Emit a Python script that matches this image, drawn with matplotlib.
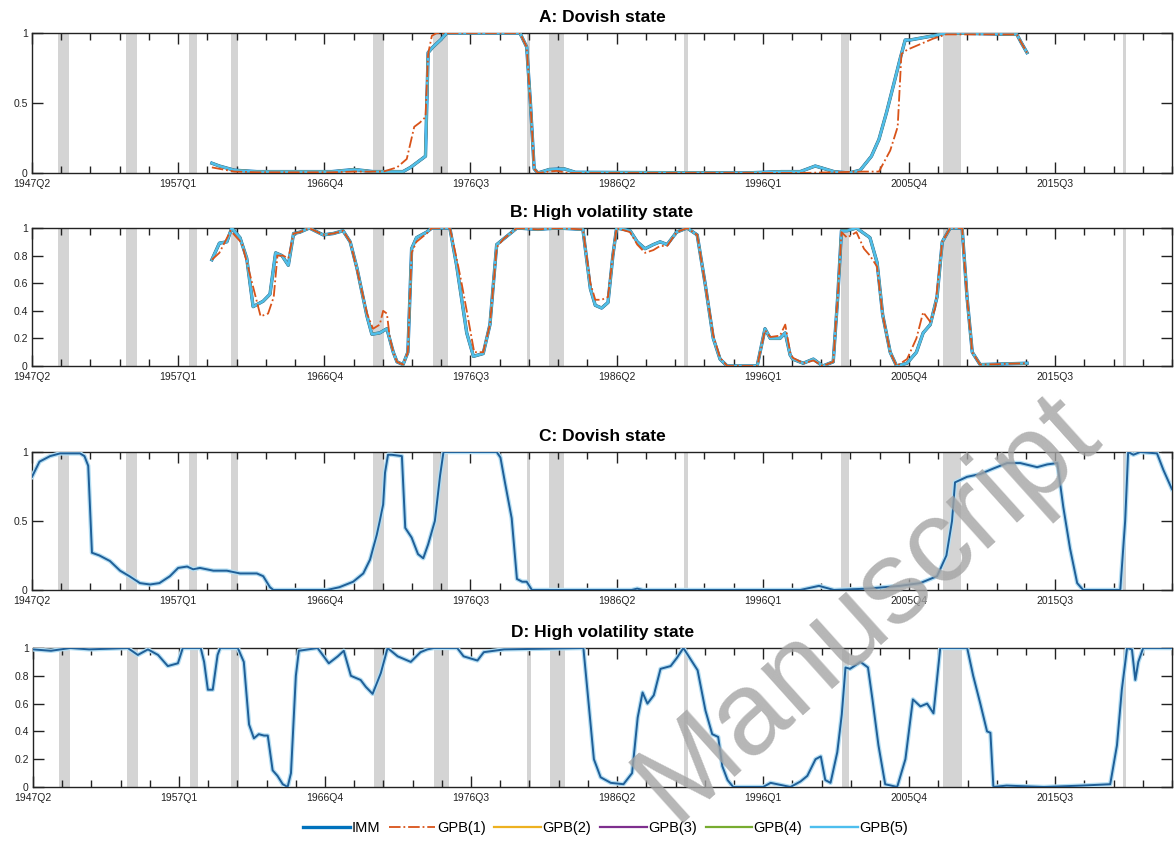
import numpy as np
import matplotlib
matplotlib.use("Agg")
import matplotlib.pyplot as plt
import matplotlib.patheffects as pe

plt.rcParams["font.family"] = ["Liberation Sans", "DejaVu Sans"]

# ───────────── axis / labels ─────────────
# x is quarters since 1947Q2
X_END = 304.2
tick_q = [0, 39, 78, 117, 156, 195, 234, 273]
tick_lbl = ["1947Q2", "1957Q1", "1966Q4", "1976Q3", "1986Q2", "1996Q1", "2005Q4", "2015Q3"]

# NBER recessions (first quarter after peak, trough), in quarters since 1947Q2
recessions = [(7, 10), (25, 28), (42, 44), (53, 55), (91, 94), (107, 111),
              (132, 133), (138, 142), (174, 175), (216, 218), (243, 248), (291, 292)]

titles = ["A: Dovish state", "B: High volatility state",
          "C: Dovish state", "D: High volatility state"]

series_names = ["IMM", "GPB(1)", "GPB(2)", "GPB(3)", "GPB(4)", "GPB(5)"]

# ───────────── data (quarter, prob) ─────────────
a_imm = [(48, .07), (50, .05), (54, .02), (60, .01), (70, .01), (80, .01), (86, .025),
         (91, .01), (99, .01), (101, .04), (103.5, .09), (105, .12), (105.7, .86),
         (107, .9), (109, .95), (110.7, 1.0), (130.2, 1.0), (132, .9), (133, .5),
         (134, .03), (135, 0), (138, .025), (142, .03), (145, .005), (190, 0),
         (200, .01), (205, .01), (209, .05), (214, .01), (218, 0), (221, .02),
         (224, .12), (226, .24), (228, .43), (230, .64), (231.6, .81), (233, .95),
         (234.3, .95), (240.5, .98), (244, 1.0), (262.8, .99), (264, .93), (265.5, .86)]

a_gpb1 = [(48, .04), (50, .03), (54, .01), (60, .005), (80, .005), (86, .01),
          (93.7, .01), (97.4, .04), (100, .1), (102, .33), (103.5, .36), (105, .4),
          (105.7, .85), (106.7, .98), (108, 1.0), (130.2, 1.0), (132, .9), (133, .5),
          (134, .03), (135, 0), (138, .01), (140, .015), (143, 0), (190, 0), (205, 0),
          (222, .01), (226, .01), (229, .16), (231, .33), (232, .85), (233.5, .88),
          (240.5, .96), (244, .99), (262.8, .99), (264, .93), (265.5, .86)]

b_imm = [(48, .77), (50, .89), (52, .9), (53.3, 1.0), (55.5, .93), (57.3, .78),
         (59, .43), (61.7, .47), (63.5, .52), (65, .82), (66.7, .8), (68.4, .73),
         (69.8, .96), (71.5, .97), (74, 1.0), (77.7, .95), (80.4, .96), (83, .98),
         (84.9, .9), (86.7, .71), (89.4, .36), (90.7, .23), (92.8, .24), (94.7, .27),
         (95.5, .19), (96.4, .1), (97.4, .03), (99, .01), (100.3, .1), (101.3, .85),
         (102.6, .93), (105.3, .97), (106.7, 1.0), (111.5, 1.0), (113.3, .73),
         (116, .24), (117.8, .07), (120.4, .09), (122.2, .3), (124, .88), (125.8, .92),
         (127.6, .96), (129.4, 1.0), (135, .99), (140, 1.0), (147, .99), (149, .56),
         (150.3, .44), (152, .42), (153.7, .46), (155, .8), (156, 1.0), (159.6, .98),
         (161.5, .9), (163.6, .85), (165.8, .88), (167.6, .9), (169.5, .88), (172, .97),
         (174.8, 1.0), (177.5, .95), (179.6, .6), (181.8, .2), (183.6, .05), (185.5, 0),
         (193.5, 0), (195.6, .27), (197, .2), (199.6, .2), (201, .24), (202.3, .08),
         (203, .05), (205.8, .02), (208.5, .05), (211, 0), (213.8, .03), (215, .5),
         (216, .98), (217.5, .98), (220, 1.0), (223.6, .93), (225.5, .75), (227, .37),
         (229, .1), (230.7, 0), (233.5, .02), (236, .1), (237.8, .24), (239.7, .3),
         (241.5, .5), (242.9, .9), (245, 1.0), (248.2, 1.0), (249.5, .5), (250.9, .1),
         (253, .01), (265.5, .02)]

b_gpb1 = [(48, .77), (50, .82), (53, .98), (56, .89), (58, .68), (61, .36), (63, .38),
          (64.5, .5), (65.5, .8), (67, .8), (68.4, .78), (69.8, .96), (71.5, .97),
          (74, 1.0), (77.7, .95), (80.4, .96), (83, .98), (84.9, .9), (86.7, .7),
          (89.4, .38), (91, .27), (92.8, .3), (93.7, .4), (94.7, .38), (95.5, .2),
          (96.4, .1), (97.4, .03), (99, .01), (100.3, .1), (101.3, .82), (102.6, .9),
          (105.3, .96), (106.7, 1.0), (111.5, 1.0), (113.3, .78), (114.5, .62),
          (116, .4), (118, .1), (120.4, .1), (122.2, .3), (124, .86), (125.8, .92),
          (127.6, .96), (129.4, 1.0), (135, .99), (140, 1.0), (147, .99), (149, .6),
          (150.3, .48), (152, .48), (153.7, .5), (155, .8), (156, 1.0), (159.6, .97),
          (161.5, .88), (163.6, .82), (165.8, .84), (167.6, .87), (169.5, .87),
          (172, .97), (174.8, 1.0), (177.5, .95), (179.6, .6), (181.8, .22),
          (183.6, .06), (185.5, 0), (193.5, 0), (195.6, .26), (197, .21), (199.6, .22),
          (201, .3), (202.3, .1), (203, .06), (205.8, .02), (208.5, .04), (211, 0),
          (213.8, .03), (215, .5), (216, .97), (217.5, .93), (220, .97), (222, .85),
          (223.6, .8), (225.5, .72), (227, .37), (229, .1), (230.7, 0), (233.5, .05),
          (236, .2), (237.8, .39), (239.7, .32), (241, .42), (242.9, .9), (245, 1.0),
          (248.2, 1.0), (249.5, .5), (250.9, .1), (253, .01), (265.5, .02)]

c_imm = [(0, .82), (2, .93), (4.8, .97), (7.5, .99), (12.8, .99), (14, .97), (15, .9),
         (16, .27), (18, .25), (20.8, .21), (23.5, .14), (26, .1), (28.8, .05),
         (31.5, .04), (34, .05), (36.8, .1), (39, .16), (41.4, .17), (43, .15),
         (44.8, .16), (48.4, .14), (52, .14), (55.5, .12), (60, .12), (61.7, .1),
         (63.5, .02), (64.4, 0), (78.7, 0), (82, .02), (85.7, .06), (88.4, .12),
         (90.2, .22), (92, .4), (92.8, .5), (93.7, .62), (94.2, .85), (95, .98),
         (96, .98), (98.7, .97), (99.6, .45), (101.3, .38), (103, .26), (104.4, .23),
         (105.7, .33), (107.5, .5), (108.9, .83), (109.8, 1.0), (124, 1.0), (125, .96),
         (126.2, .78), (128, .52), (129.4, .08), (130.8, .06), (132, .06), (133.4, 0),
         (160, 0), (161.5, .01), (163, 0), (205, 0), (210, .03), (214, 0), (223, .01),
         (231.6, .03), (237, .05), (241.5, .1), (244, .25), (245.5, .5), (246.3, .78),
         (249.5, .82), (253, .84), (256.5, .88), (260.2, .92), (263.7, .92),
         (268.2, .89), (270.9, .91), (273.6, .92), (275.2, .6), (277, .3), (278.9, .05),
         (280.5, 0), (290.4, 0), (291.7, .5), (292.5, 1.0), (293.9, .98), (295.7, 1.0),
         (300.2, .99), (301.9, .87), (303.7, .76), (304.2, .73)]

d_imm = [(0, .99), (4.8, .98), (10, 1.0), (15, .99), (25.3, 1.0), (28, .95), (30.7, .99),
         (33.4, .95), (36, .87), (38.7, .89), (40, 1.0), (44.8, 1.0), (45.7, .9),
         (46.7, .7), (48, .7), (49.3, .95), (50, 1.0), (54.7, 1.0), (56.3, .9),
         (57.7, .45), (59, .35), (60.3, .38), (61.7, .37), (62.7, .37), (64, .12),
         (65.3, .08), (66.7, .02), (68, 0), (68.9, .1), (70.2, .8), (71, .98), (76, 1.0),
         (79, .89), (81.4, .94), (83, .98), (84.9, .8), (87.5, .77), (88.9, .72),
         (90.7, .67), (92.9, .82), (94.7, 1.0), (97.4, .94), (100.9, .9), (103.5, .97),
         (105.3, .99), (107, 1.0), (113.3, 1.0), (115, .94), (118.7, .91), (120.4, .97),
         (125.8, .99), (147, 1.0), (148.4, .6), (149.8, .2), (151.6, .07), (154.3, .03),
         (157.7, .02), (160, .1), (161.5, .5), (162.8, .68), (164.1, .6), (165.8, .66),
         (167.6, .85), (170.3, .87), (172, .93), (173.7, 1.0), (175.6, .92),
         (177.5, .84), (179.6, .55), (181.4, .38), (183, .36), (184.1, .15),
         (185.5, .05), (187, 0), (195, 0), (197, .03), (202.3, 0), (205, .04),
         (206.8, .08), (209, .2), (210.4, .22), (211.6, .05), (213, .03), (214.8, .25),
         (216, .52), (217, .86), (218.2, .85), (221, .9), (223, .86), (224.2, .63),
         (225.8, .3), (227.6, .02), (230.8, 0), (233, .2), (235, .63), (237, .58),
         (238.8, .6), (240.5, .53), (242.3, 1.0), (249.5, 1.0), (251.1, .8), (253, .6),
         (254.8, .4), (255.7, .39), (256.5, 0), (260, .01), (270, 0), (280, .01),
         (287.7, .02), (289.5, .3), (290.8, .7), (292.2, 1.0), (293.5, .99),
         (294.4, .77), (295.2, .9), (296.5, 1.0), (304.2, 1.0)]

# ───────────── styles ─────────────
colors = ["#0072BD", "#D95319", "#EDB120", "#7E2F8E", "#77AC30", "#4DBEEE"]
styles = ["-", "-.", "-", "-", "-", "-"]
widths = [2.4, 1.3, 1.6, 1.6, 1.6, 1.7]

W, H = 1176, 841
# (left, top, right, bottom) pixel boxes
boxes = [(32, 33, 1172, 173), (32, 228, 1172, 366),
         (32, 452, 1172, 590), (33, 648, 1172, 787)]

fig = plt.figure(figsize=(W / 100, H / 100), dpi=100)


def xy(pairs):
    arr = np.array(pairs, dtype=float)
    return arr[:, 0], arr[:, 1]


def style_axis(ax, title, fine):
    for s, e in recessions:
        ax.axvspan(s, e, color="#d4d4d4", lw=0, zorder=0)
    ax.set_xlim(0, X_END)
    ax.set_ylim(0, 1)
    ax.set_xticks(tick_q, tick_lbl)
    ax.set_xticks(np.arange(0, X_END + 0.1, 7.8), minor=True)
    if fine:
        yt = [0, 0.2, 0.4, 0.6, 0.8, 1]
        ax.set_yticks(yt, ["0", "0.2", "0.4", "0.6", "0.8", "1"])
    else:
        ax.set_yticks([0, 0.5, 1], ["0", "0.5", "1"])
    ax.tick_params(which="both", direction="in", top=True, right=True,
                   labelsize=7.5, colors="#222222", width=1.0)
    ax.tick_params(axis="x", which="major", length=8, pad=4)
    ax.tick_params(axis="x", which="minor", length=5)
    ax.tick_params(axis="y", length=8, pad=3)
    for sp in ax.spines.values():
        sp.set_linewidth(1.0)
        sp.set_color("#222222")
    ax.set_title(title, fontsize=12.5, fontweight="bold", pad=8)


axes = []
for i, (l, t, r, b) in enumerate(boxes):
    ax = fig.add_axes([l / W, 1 - b / H, (r - l) / W, (b - t) / H])
    style_axis(ax, titles[i], fine=(i % 2 == 1))
    axes.append(ax)

# panels A and B: IMM and GPB(2)-(5) coincide, GPB(1) differs
handles = []
for ax, imm, g1 in [(axes[0], a_imm, a_gpb1), (axes[1], b_imm, b_gpb1)]:
    handles = []
    for k, name in enumerate(series_names):
        q, v = xy(g1 if k == 1 else imm)
        h, = ax.plot(q, v, styles[k], color=colors[k], lw=widths[k], label=name,
                     zorder=3 + (k == 1) * 0.5)
        handles.append(h)

# panels C and D
for ax, imm in [(axes[2], c_imm), (axes[3], d_imm)]:
    q, v = xy(imm)
    ax.plot(q, v, color="#1f5f98", lw=1.4, zorder=3,
            path_effects=[pe.Stroke(linewidth=3.2, foreground="#b5def3"), pe.Normal()])

fig.legend(handles, series_names, loc="center", ncol=6,
           bbox_to_anchor=(0.515, 1 - 828 / H), frameon=False, fontsize=10.5,
           handlelength=3.2, handletextpad=0.1, columnspacing=0.6)

# watermark
fig.text(868 / W, 1 - 608 / H, "Manuscript", rotation=42, fontsize=85,
         color="#a4a4a4", alpha=0.8, ha="center", va="center", zorder=10)

fig.savefig("out.png", dpi=100)
